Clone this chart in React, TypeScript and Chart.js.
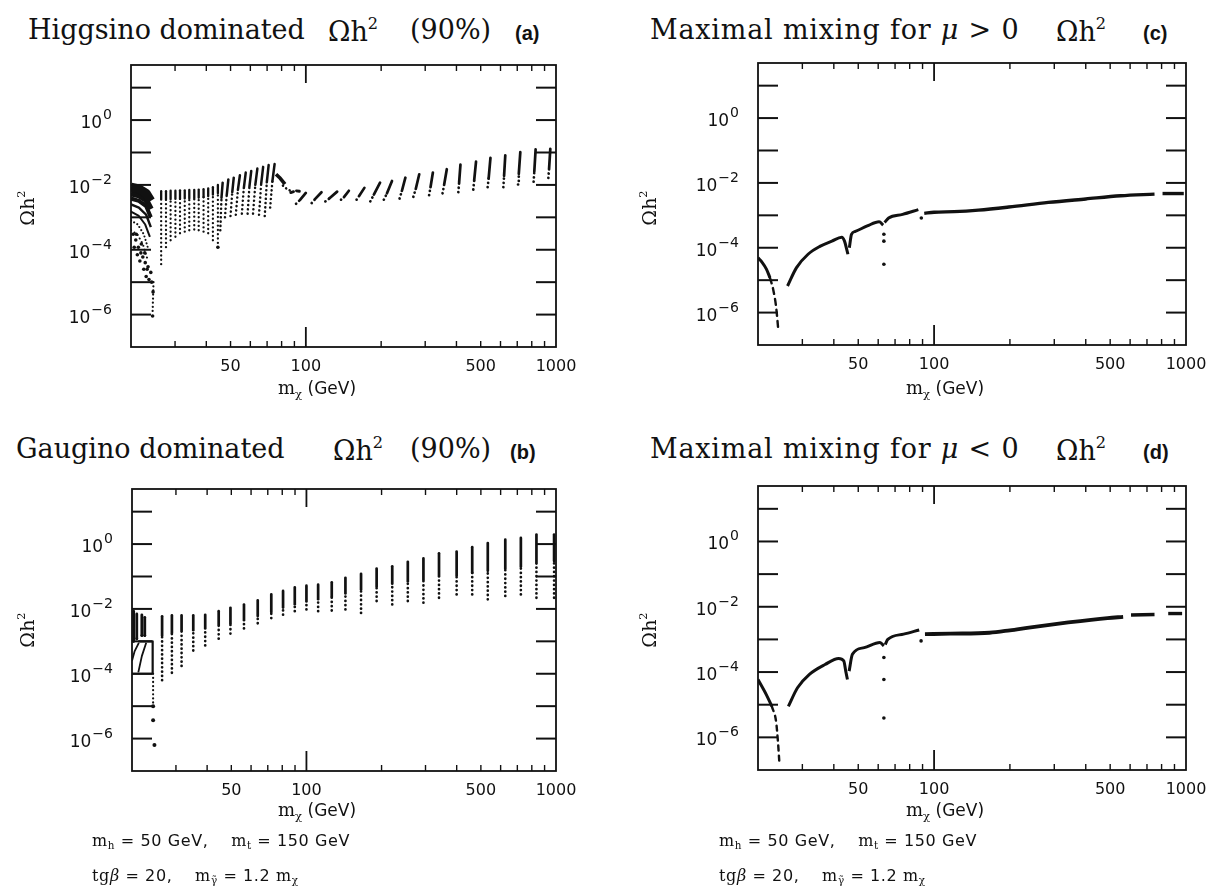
import React, { useEffect, useRef } from "react";
import { Chart, registerables } from "chart.js";
Chart.register(...registerables);

// ---------- axes ----------
const xRange = [20, 1000];
const yRange = [1e-7, 50];
const xTickValues = [50, 100, 500, 1000];
const xTickLabels = ["50", "100", "500", "1000"];
const xMinorTickValues = [30, 40, 50, 60, 70, 80, 90, 200, 300, 400, 500, 600, 700, 800, 900];
const xMajorTickValues = [100];
const yTickValues = [1e-6, 1e-4, 1e-2, 1];
const yTickBase = ["10", "10", "10", "10"];
const yTickExponents = ["−6", "−4", "−2", "0"];
const yDecadeTickValues = [1e-6, 1e-5, 1e-4, 1e-3, 1e-2, 1e-1, 1, 10];

// ---------- panel (a): Higgsino dominated ----------
const aArc1X = [20, 21.5, 23, 24]; const aArc1Y = [8.5e-3, 7.5e-3, 5.5e-3, 3.2e-3];
const aArc2X = [20, 21.5, 23, 24]; const aArc2Y = [5.5e-3, 4.8e-3, 3.4e-3, 1.8e-3];
const aArc3X = [20, 21.5, 23, 24]; const aArc3Y = [3.8e-3, 3.2e-3, 2.2e-3, 1e-3];
const aArc4X = [20, 21.5, 23, 24]; const aArc4Y = [2.5e-3, 2e-3, 1.2e-3, 5e-4];
const aArc5X = [20, 21.5, 22.8, 23.8]; const aArc5Y = [1.5e-3, 1.1e-3, 6e-4, 2.5e-4];
const aArc6X = [20, 21.3, 22.5, 23.5]; const aArc6Y = [8e-4, 6e-4, 3e-4, 1e-4];
const aArc7X = [20, 21.2, 22.3, 23.3]; const aArc7Y = [4e-4, 3e-4, 1.5e-4, 5e-5];
const aScatterX = [20.4, 20.9, 21.4, 21.9, 22.3, 22.8, 23.2, 20.6, 21.2, 21.7, 22.5, 23.0, 23.6, 21.0, 22.0, 22.7, 23.4, 24.0, 24.2, 24.5, 24.4, 44.5];
const aScatterY = [3e-4, 2e-4, 1.2e-4, 8e-5, 6e-5, 4e-5, 2.5e-5, 1.2e-4, 7e-5, 4.5e-5, 2.5e-5, 1.5e-5, 1.2e-5, 3e-4, 1.5e-4, 8e-5, 3e-5, 2e-5, 1e-5, 5e-6, 9e-7, 1.2e-4];
const aDropX = [24.6, 24.4]; const aDropY = [1e-5, 1.2e-6];
// low-mass columns (vertical)
const aG1X = [26.4, 27.6, 28.8, 30.1, 31.4, 32.8, 34.2, 35.8, 37.3, 39.0, 40.7, 42.5, 44.5];
const aG1YB = [3.6e-5, 1.2e-4, 1.95e-4, 2.5e-4, 3.2e-4, 3.6e-4, 4.0e-4, 4.2e-4, 4.0e-4, 3.6e-4, 3.2e-4, 1.95e-4, 1.2e-4];
const aG1YM = [3.5e-3, 3.6e-3, 3.6e-3, 3.7e-3, 3.7e-3, 3.8e-3, 3.8e-3, 3.9e-3, 4e-3, 4.2e-3, 4.5e-3, 5e-3, 5.5e-3];
const aG1YT = [6.4e-3, 6.4e-3, 6.6e-3, 6.6e-3, 6.8e-3, 6.8e-3, 7e-3, 7e-3, 7.2e-3, 7.4e-3, 7.8e-3, 8.5e-3, 1.0e-2];
// 45-75 GeV columns (slanted)
const aG2XB = [45.5, 47.5, 50, 52.5, 55.5, 58.5, 61.5, 65, 68.5, 72];
const aG2XM = [46, 48.3, 50.8, 53.5, 56.5, 59.5, 62.8, 66.3, 69.8, 73.5];
const aG2XT = [46.5, 49, 51.5, 54.5, 57.5, 60.5, 64, 67.5, 71, 75];
const aG2YB = [4e-4, 1e-3, 1.1e-3, 1.2e-3, 1.3e-3, 1.3e-3, 1.3e-3, 1.2e-3, 1.1e-3, 2e-3];
const aG2YM = [0.004, 0.005, 0.006, 0.007, 0.008, 0.009, 0.01, 0.011, 0.012, 0.013];
const aG2YT = [0.0117, 0.0148, 0.0167, 0.0198, 0.024, 0.027, 0.032, 0.036, 0.041, 0.044];
// 76-96 GeV bump
const aBump1X = [76, 79, 82.5]; const aBump1Y = [0.0213, 0.016, 0.0105];
const aBump2X = [81, 84, 87.5]; const aBump2Y = [0.0095, 0.0075, 0.0064];
const aBump3X = [87, 91.5, 96.5]; const aBump3Y = [0.0058, 0.0066, 0.0062];
// high-mass columns (slanted)
const aG4XB = [91.4, 105.5, 119.7, 138.2, 159.5, 181, 205, 237, 269, 311, 352, 407, 467, 533, 616, 705, 814, 932];
const aG4XM = [95, 109, 124, 142, 163, 187, 211, 242, 275, 315, 357, 410, 471, 538, 620, 710, 819, 938];
const aG4XT = [100, 115.5, 133.4, 148.6, 171.4, 198, 221, 250, 284, 322, 366, 415, 479, 547, 627, 720, 829, 949];
const aG4YB = [0.00262, 0.00275, 0.0031, 0.0035, 0.0035, 0.0031, 0.0035, 0.0038, 0.0043, 0.0048, 0.0055, 0.006, 0.0072, 0.0085, 0.0085, 0.0103, 0.0125, 0.0165];
const aG4YM = [0.0035, 0.0037, 0.0038, 0.0042, 0.0045, 0.005, 0.0055, 0.0065, 0.0075, 0.0085, 0.01, 0.012, 0.014, 0.016, 0.019, 0.022, 0.026, 0.03];
const aG4YT = [0.00566, 0.00595, 0.0062, 0.0066, 0.0081, 0.0117, 0.0132, 0.0167, 0.0213, 0.024, 0.0305, 0.042, 0.052, 0.068, 0.082, 0.102, 0.125, 0.13];

// ---------- panel (b): Gaugino dominated ----------
const bLeftX = [20.3, 20.9, 21.9, 22.5];
const bLeftYB = [1e-3, 1.2e-3, 1.5e-3, 1.5e-3];
const bLeftYT = [8.5e-3, 7e-3, 6.5e-3, 5.5e-3];
const bBoxX = [21.2, 24.2, 24.2, 20.0]; const bBoxY = [1e-3, 1e-3, 1e-4, 1e-4];
const bArc1X = [20, 20.5, 21.3]; const bArc1Y = [2.5e-4, 5e-4, 9e-4];
const bArc2X = [21.2, 21.9, 22.8]; const bArc2Y = [1.1e-4, 3.5e-4, 9e-4];
const bDropX = [24.3, 24.3]; const bDropY = [1e-4, 1.2e-5];
const bScatterX = [24.3, 24.3, 24.6];
const bScatterY = [1e-5, 3.7e-6, 6.3e-7];
const bColX = [26.4, 28.9, 31.6, 35.2, 39.3, 44.5, 49.6, 56.2, 63.8, 72.3, 80.6, 89.8, 100, 111.4, 126.3, 143.3, 165.5, 191.1, 220.7, 254.8, 294.3, 339.8, 399.8, 461.6, 532.9, 626.3, 723.1, 834.9, 982.5];
const bColYT = [0.0059, 0.0063, 0.0063, 0.0063, 0.0066, 0.0085, 0.0108, 0.0137, 0.0183, 0.028, 0.036, 0.046, 0.052, 0.056, 0.066, 0.091, 0.121, 0.175, 0.207, 0.284, 0.36, 0.52, 0.587, 0.80, 1.08, 1.37, 1.55, 1.97, 1.97];
const bColYM = [1.5e-3, 1.8e-3, 2e-3, 2.2e-3, 2.5e-3, 3e-3, 3.6e-3, 4.5e-3, 6e-3, 8e-3, 0.011, 0.014, 0.017, 0.02, 0.024, 0.03, 0.04, 0.05, 0.06, 0.07, 0.08, 0.1, 0.11, 0.13, 0.15, 0.18, 0.2, 0.25, 0.3];
const bColYB = [6.3e-5, 1.07e-4, 1.74e-4, 5.2e-4, 7.5e-4, 1.21e-3, 1.73e-3, 2.5e-3, 3.6e-3, 5.2e-3, 6.6e-3, 8.5e-3, 9.6e-3, 8.5e-3, 8.9e-3, 9.6e-3, 7.5e-3, 0.0175, 0.0137, 0.0175, 0.0155, 0.022, 0.028, 0.028, 0.0197, 0.025, 0.028, 0.022, 0.022];

// ---------- panel (c): maximal mixing, mu > 0 ----------
const cLeftX = [20, 20.8, 21.6, 22.3]; const cLeftY = [4.9e-5, 3.5e-5, 2.2e-5, 1.2e-5];
const cDropX = [22.3, 23.0, 23.6, 24.1]; const cDropY = [1.2e-5, 5e-6, 1.5e-6, 2.7e-7];
const cMain1X = [26.2, 28.4, 31.6, 35.2, 39.3, 43, 44.1, 45, 45.5];
const cMain1Y = [6.6e-6, 2.4e-5, 6.3e-5, 1.1e-4, 1.6e-4, 2.1e-4, 1.6e-4, 8.9e-5, 6.3e-5];
const cMain2X = [46.1, 47, 48.7, 54.3, 60.5, 62.8];
const cMain2Y = [1e-4, 2.6e-4, 3.2e-4, 4.7e-4, 6.3e-4, 5e-4];
const cMain3X = [63.6, 66, 75, 86.6]; const cMain3Y = [6e-4, 8.3e-4, 1.07e-3, 1.5e-3];
const cMain4X = [91.4, 100, 120, 150, 198, 284, 400, 550, 750];
const cMain4Y = [1.15e-3, 1.25e-3, 1.3e-3, 1.45e-3, 1.8e-3, 2.5e-3, 3.2e-3, 4e-3, 4.5e-3];
const cMain5X = [807, 980]; const cMain5Y = [4.7e-3, 4.7e-3];
const cScatterX = [63.2, 63.2, 63.2, 89];
const cScatterY = [2.6e-4, 1.6e-4, 3.1e-5, 8.3e-4];

// ---------- panel (d): maximal mixing, mu < 0 ----------
const dLeftX = [20, 21.6, 22.7]; const dLeftY = [5.9e-5, 2e-5, 8.9e-6];
const dDropX = [22.7, 23.6, 24.0, 24.3]; const dDropY = [8.9e-6, 3e-6, 7.4e-7, 1.8e-7];
const dMain1X = [26.4, 28.7, 32, 36.9, 41.8, 43.8, 44.6, 45.3];
const dMain1Y = [8.9e-6, 3.3e-5, 8.5e-5, 1.7e-4, 2.6e-4, 2.2e-4, 1.07e-4, 5.9e-5];
const dMain2X = [46, 47.4, 52.8, 61, 63.2]; const dMain2Y = [1.07e-4, 3.5e-4, 5.6e-4, 8.1e-4, 6.3e-4];
const dMain3X = [64, 65.5, 75.7, 87.3]; const dMain3Y = [7e-4, 1e-3, 1.45e-3, 1.95e-3];
const dMain4X = [92, 116, 166, 200, 238, 341, 488, 563];
const dMain4Y = [1.45e-3, 1.5e-3, 1.6e-3, 1.9e-3, 2.3e-3, 3.3e-3, 4.5e-3, 4.9e-3];
const dMain5X = [605, 750]; const dMain5Y = [5.6e-3, 5.8e-3];
const dMain6X = [850, 965]; const dMain6Y = [6.2e-3, 6.2e-3];
const dScatterX = [63.2, 63.2, 63.2, 88.8];
const dScatterY = [2.8e-4, 5.9e-5, 3.9e-6, 9e-4];

// ---------- helpers ----------
const INK = "#111";
const pts = (xs: number[], ys: number[]) => xs.map((x, i) => ({ x, y: ys[i] }));

function curve(xs: number[], ys: number[], width = 3, dash: number[] = [], smooth = false) {
  return {
    data: pts(xs, ys), showLine: true, borderColor: INK, backgroundColor: INK,
    borderWidth: width, borderDash: dash, pointRadius: 0, tension: 0,
    cubicInterpolationMode: smooth ? "monotone" : "default",
    borderCapStyle: dash.length ? "round" : "butt", borderJoinStyle: "round", fill: false,
  };
}
function dots(xs: number[], ys: number[], r = 1.6) {
  return { data: pts(xs, ys), showLine: false, pointRadius: r, pointBorderWidth: 0, pointBackgroundColor: INK, borderColor: INK, backgroundColor: INK };
}
// columns: dotted part (bottom -> mid) and solid part (mid -> top)
function columns(xb: number[], xm: number[], xt: number[], yb: number[], ym: number[], yt: number[], width = 2.4) {
  return xb.map((_, i) => ({
    data: [{ x: xb[i], y: yb[i] }, { x: xm[i], y: ym[i] }, { x: xt[i], y: yt[i] }],
    showLine: true, borderColor: INK, borderWidth: width, pointRadius: 0, tension: 0,
    borderCapStyle: "round", borderDash: [],
    segment: { borderDash: (ctx: any) => (ctx.p0DataIndex === 0 ? [0.1, 4.2] : []) },
  }));
}

const datasetsA = [
  curve(aArc1X, aArc1Y, 9), curve(aArc2X, aArc2Y, 6), curve(aArc3X, aArc3Y, 4), curve(aArc4X, aArc4Y, 2.4),
  curve(aArc5X, aArc5Y, 2), curve(aArc6X, aArc6Y, 2, [0.1, 3.5]), curve(aArc7X, aArc7Y, 2, [0.1, 4]),
  dots(aScatterX, aScatterY, 1.8), curve(aDropX, aDropY, 2.2, [0.1, 4]),
  ...columns(aG1X, aG1X, aG1X, aG1YB, aG1YM, aG1YT, 2.3),
  ...columns(aG2XB, aG2XM, aG2XT, aG2YB, aG2YM, aG2YT, 2.5),
  curve(aBump1X, aBump1Y, 3.6), curve(aBump2X, aBump2Y, 2.5, [0.1, 4]), curve(aBump3X, aBump3Y, 2.8, [3, 3]),
  ...columns(aG4XB, aG4XM, aG4XT, aG4YB, aG4YM, aG4YT, 2.7),
];
const datasetsB = [
  ...columns(bLeftX, bLeftX, bLeftX, bLeftYB, bLeftYB, bLeftYT, 2.8),
  curve(bBoxX, bBoxY, 2.2), curve(bArc1X, bArc1Y, 1.8), curve(bArc2X, bArc2Y, 1.8),
  curve(bDropX, bDropY, 2.2, [0.1, 4]), dots(bScatterX, bScatterY, 2),
  ...columns(bColX, bColX, bColX, bColYB, bColYM, bColYT, 2.7),
];
const datasetsC = [
  curve(cLeftX, cLeftY, 3, [], true), curve(cDropX, cDropY, 2.4, [6, 5], true),
  curve(cMain1X, cMain1Y, 3, [], true), curve(cMain2X, cMain2Y, 3, [], true), curve(cMain3X, cMain3Y, 3, [], true),
  curve(cMain4X, cMain4Y, 3.4, [], true), curve(cMain5X, cMain5Y, 3.4), dots(cScatterX, cScatterY, 1.8),
];
const datasetsD = [
  curve(dLeftX, dLeftY, 3, [], true), curve(dDropX, dDropY, 2.4, [5, 5], true),
  curve(dMain1X, dMain1Y, 3, [], true), curve(dMain2X, dMain2Y, 3, [], true), curve(dMain3X, dMain3Y, 3, [], true),
  curve(dMain4X, dMain4Y, 3.8, [], true), curve(dMain5X, dMain5Y, 3.4), curve(dMain6X, dMain6Y, 3.4),
  dots(dScatterX, dScatterY, 1.8),
];

// frame, inward ticks and power-of-ten labels, positioned through the chart's own scales
const framePlugin = {
  id: "frameTicks",
  afterDatasetsDraw(chart: any) {
    const { ctx, chartArea: a, scales } = chart;
    const x = scales.x, y = scales.y;
    const seg = (x1: number, y1: number, x2: number, y2: number) => {
      ctx.beginPath(); ctx.moveTo(x1, y1); ctx.lineTo(x2, y2); ctx.stroke();
    };
    ctx.save();
    ctx.strokeStyle = INK;
    ctx.lineWidth = 1.8;
    ctx.strokeRect(a.left, a.top, a.right - a.left, a.bottom - a.top);
    ctx.lineWidth = 2;
    yDecadeTickValues.forEach((v) => {
      const py = y.getPixelForValue(v);
      seg(a.left, py, a.left + 20, py);
      seg(a.right - 20, py, a.right, py);
    });
    ctx.lineWidth = 1.4;
    xMinorTickValues.forEach((v) => {
      const px = x.getPixelForValue(v);
      seg(px, a.bottom, px, a.bottom - 6);
      seg(px, a.top, px, a.top + 6);
    });
    ctx.lineWidth = 1.8;
    xMajorTickValues.forEach((v) => {
      const px = x.getPixelForValue(v);
      seg(px, a.bottom, px, a.bottom - 20);
      seg(px, a.top, px, a.top + 18);
    });
    // y tick labels 10^n
    ctx.fillStyle = INK;
    ctx.textBaseline = "alphabetic";
    yTickValues.forEach((v, i) => {
      const py = y.getPixelForValue(v);
      const right = a.left - 19;
      ctx.font = "14px 'DejaVu Sans'";
      const ew = ctx.measureText(yTickExponents[i]).width;
      ctx.textAlign = "right";
      ctx.fillText(yTickExponents[i], right, py - 1);
      ctx.font = "17px 'DejaVu Sans'";
      ctx.fillText(yTickBase[i], right - ew - 1, py + 8);
    });
    ctx.restore();
  },
};

type Box = { l: number; r: number; t: number; b: number };

function Panel(props: { left: number; top: number; width: number; height: number; box: Box; datasets: any[] }) {
  const { left, top, width, height, box, datasets } = props;
  const ref = useRef<HTMLCanvasElement | null>(null);
  useEffect(() => {
    if (!ref.current) return;
    const yAxisW = box.l - left;
    const padTop = box.t - top;
    const padRight = left + width - box.r;
    const xAxisH = top + height - box.b;
    const tickFont = { family: "'DejaVu Sans'", size: 16 };
    const chart = new Chart(ref.current, {
      type: "scatter",
      data: { datasets },
      plugins: [framePlugin],
      options: {
        animation: false,
        responsive: false,
        maintainAspectRatio: false,
        events: [],
        layout: { padding: { left: 0, right: padRight, top: padTop, bottom: 0 } },
        plugins: { legend: { display: false }, tooltip: { enabled: false }, title: { display: false } },
        scales: {
          x: {
            type: "logarithmic", min: xRange[0], max: xRange[1],
            grid: { display: false, drawTicks: false }, border: { display: false },
            afterBuildTicks: (s: any) => { s.ticks = xTickValues.map((v) => ({ value: v })); },
            ticks: { autoSkip: false, maxRotation: 0, minRotation: 0, padding: 10, color: INK, font: tickFont,
              callback: (_v: any, i: number) => xTickLabels[i] },
            afterFit: (s: any) => { s.height = xAxisH; s.paddingLeft = 0; s.paddingRight = 0; },
          },
          y: {
            type: "logarithmic", min: yRange[0], max: yRange[1],
            grid: { display: false, drawTicks: false }, border: { display: false },
            afterBuildTicks: (s: any) => { s.ticks = yTickValues.map((v) => ({ value: v })); },
            ticks: { display: false },
            afterFit: (s: any) => { s.width = yAxisW; s.paddingTop = 0; s.paddingBottom = 0; },
          },
        },
      } as any,
    } as any);
    return () => chart.destroy();
  }, []);
  return <canvas ref={ref} width={width} height={height} style={{ position: "absolute", left, top, width, height }} />;
}

const serif = "'DejaVu Serif', serif";
const sans = "'DejaVu Sans', sans-serif";

function T(props: { x: number; base: number; size: number; family?: string; weight?: number; children: any; spacing?: number }) {
  const { x, base, size, family = serif, weight = 400, children, spacing = 0 } = props;
  return (
    <div style={{ position: "absolute", left: x, top: base - 0.846 * size, fontSize: size, lineHeight: 1, fontFamily: family,
      fontWeight: weight, whiteSpace: "pre", color: INK, letterSpacing: spacing }}>{children}</div>
  );
}
const sup = { fontSize: "0.6em", verticalAlign: "0.75em" } as const;
const sub = { fontSize: "0.65em", verticalAlign: "-0.3em" } as const;

function YTitle({ cx, cy }: { cx: number; cy: number }) {
  return (
    <div style={{ position: "absolute", left: cx - 40, top: cy - 12, width: 80, height: 24, lineHeight: "24px", textAlign: "center",
      transform: "rotate(-90deg)", fontFamily: serif, fontSize: 19, color: INK, whiteSpace: "pre" }}>
      Ωh<span style={sup}>2</span>
    </div>
  );
}
function XTitle({ cx, cy }: { cx: number; cy: number }) {
  return (
    <div style={{ position: "absolute", left: cx - 80, top: cy - 12, width: 160, height: 24, lineHeight: "24px", textAlign: "center",
      fontFamily: sans, fontSize: 17, color: INK, whiteSpace: "pre" }}>
      <span style={{ fontFamily: serif, fontSize: 18 }}>m<span style={sub}>χ</span></span> (GeV)
    </div>
  );
}
function Footer({ x, base1, base2 }: { x: number; base1: number; base2: number }) {
  return (
    <>
      <T x={x} base={base1} size={16} family={sans} spacing={0.6}>
        <span style={{ fontFamily: serif }}>m<span style={sub}>h</span></span> = 50 GeV,{"    "}
        <span style={{ fontFamily: serif }}>m<span style={sub}>t</span></span> = 150 GeV
      </T>
      <T x={x} base={base2} size={16} family={sans} spacing={0.6}>
        <span style={{ fontFamily: serif }}>tg<i>β</i></span> = 20,{"    "}
        <span style={{ fontFamily: serif }}>m<span style={sub}>γ̃</span></span> = 1.2{" "}
        <span style={{ fontFamily: serif }}>m<span style={sub}>χ</span></span>
      </T>
    </>
  );
}

export default function App() {
  const TS = 27;
  const lab = "'Liberation Sans', sans-serif";
  return (
    <div style={{ position: "absolute", left: 0, top: 0, width: 1208, height: 890, background: "#fff", overflow: "hidden" }}>
      <T x={28} base={39} size={TS}>Higgsino dominated</T>
      <T x={328} base={39} size={TS}>Ωh<span style={sup}>2</span></T>
      <T x={410} base={39} size={TS}>(90%)</T>
      <T x={515} base={40} size={20} family={lab} weight={700}>(a)</T>

      <T x={650} base={39} size={TS} spacing={0.8}>Maximal mixing for <i>μ</i> &gt; 0</T>
      <T x={1056} base={39} size={TS}>Ωh<span style={sup}>2</span></T>
      <T x={1143} base={40} size={20} family={lab} weight={700}>(c)</T>

      <T x={16} base={458} size={TS}>Gaugino dominated</T>
      <T x={333} base={458} size={TS}>Ωh<span style={sup}>2</span></T>
      <T x={410} base={458} size={TS}>(90%)</T>
      <T x={510} base={459} size={20} family={lab} weight={700}>(b)</T>

      <T x={650} base={458} size={TS} spacing={0.8}>Maximal mixing for <i>μ</i> &lt; 0</T>
      <T x={1056} base={458} size={TS}>Ωh<span style={sup}>2</span></T>
      <T x={1143} base={459} size={20} family={lab} weight={700}>(d)</T>

      <Panel left={0} top={50} width={600} height={340} box={{ l: 131, r: 556, t: 65, b: 347 }} datasets={datasetsA} />
      <Panel left={604} top={50} width={604} height={340} box={{ l: 758, r: 1186, t: 63, b: 345 }} datasets={datasetsC} />
      <Panel left={0} top={475} width={600} height={335} box={{ l: 132, r: 556, t: 489, b: 771 }} datasets={datasetsB} />
      <Panel left={604} top={475} width={604} height={335} box={{ l: 758, r: 1186, t: 486, b: 770 }} datasets={datasetsD} />

      <YTitle cx={21} cy={208} />
      <YTitle cx={643} cy={208} />
      <YTitle cx={21} cy={630} />
      <YTitle cx={643} cy={630} />
      <XTitle cx={317} cy={388} />
      <XTitle cx={945} cy={388} />
      <XTitle cx={317} cy={810} />
      <XTitle cx={945} cy={810} />

      <Footer x={92} base1={847} base2={882} />
      <Footer x={719} base1={847} base2={882} />
    </div>
  );
}
